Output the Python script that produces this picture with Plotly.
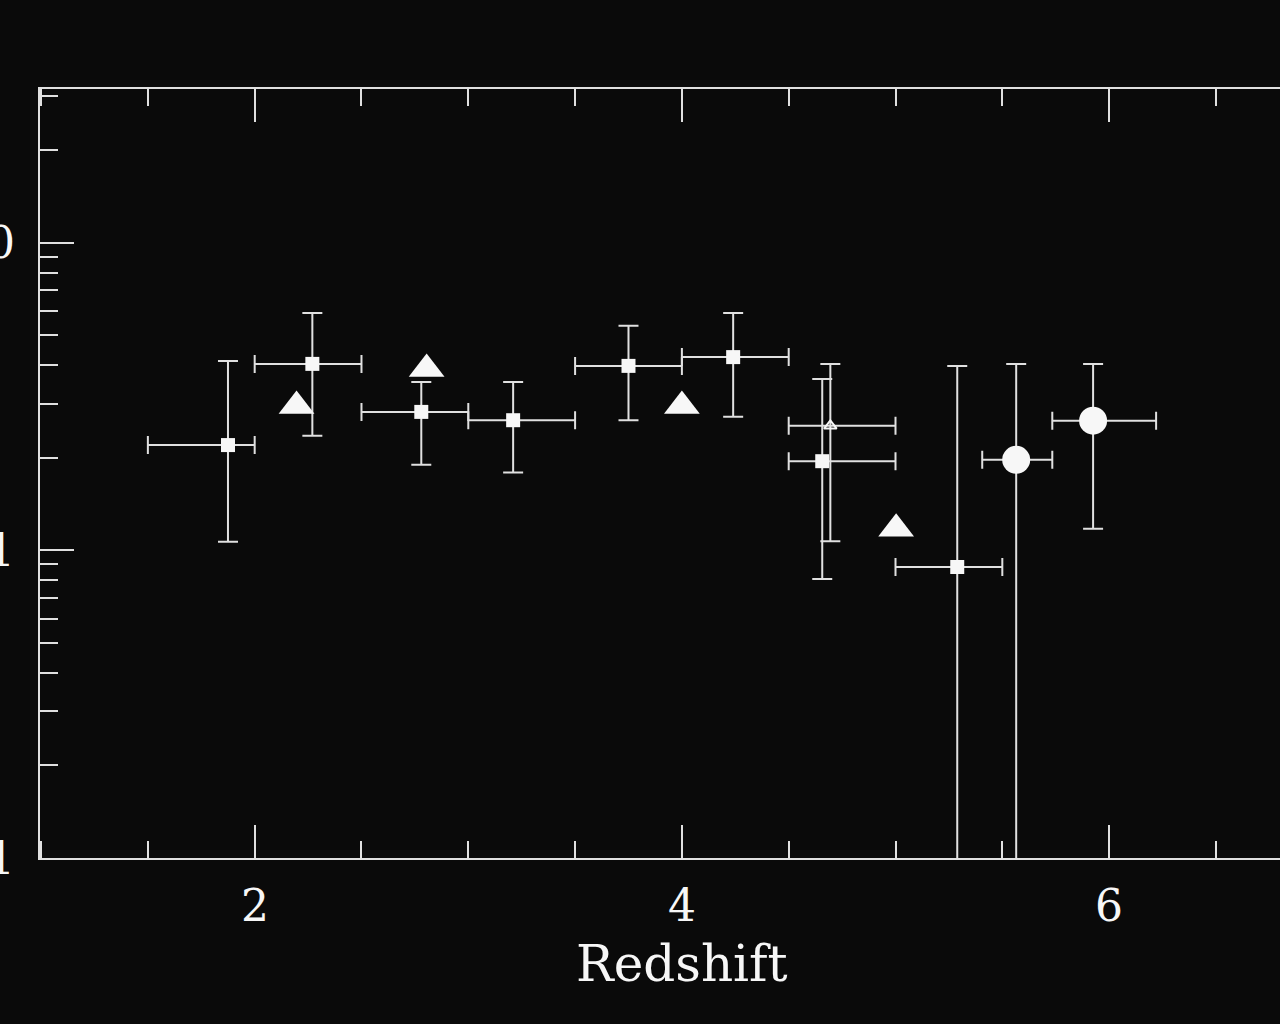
import math
import plotly.graph_objects as go

# ---------------- data ----------------
# squares with x and y error bars
sq_x = [1.875, 2.27, 2.78, 3.21, 3.75, 4.24, 4.657, 5.289]
sq_y = [2.20, 4.04, 2.82, 2.65, 3.98, 4.25, 1.95, 0.883]
sq_xlo = [1.5, 2.0, 2.5, 3.0, 3.5, 4.0, 4.5, 5.0]
sq_xhi = [2.0, 2.5, 3.0, 3.5, 4.0, 4.5, 5.0, 5.5]
sq_ylo = [1.066, 2.36, 1.90, 1.79, 2.65, 2.72, 0.807, 0.05]
sq_yhi = [4.13, 5.91, 3.53, 3.53, 5.37, 5.91, 3.61, 3.98]

# small open triangle with error bars
ot_x = [4.695]
ot_y = [2.54]
ot_xlo = [4.5]
ot_xhi = [5.0]
ot_ylo = [1.07]
ot_yhi = [4.04]

# filled circles with error bars
ci_x = [5.565, 5.925]
ci_y = [1.97, 2.64]
ci_xlo = [5.406, 5.734]
ci_xhi = [5.734, 6.220]
ci_ylo = [0.05, 1.175]
ci_yhi = [4.04, 4.04]

# filled triangles (no error bars)
tr_x = [2.196, 2.805, 4.0, 5.003]
tr_y = [2.95, 3.89, 2.95, 1.175]

# axis labels
x_tick_vals = [2, 4, 6]
x_tick_text = ["2", "4", "6"]
y_tick_vals = [0.1, 1, 10]
y_tick_text = ["0.1", "1", "10"]
x_title = "Redshift"

# ---------------- style ----------------
BG = "#0a0a0a"
FG = "#e0e0e0"
MK = "#f7f7f7"
FONT = "DejaVu Serif"


def errs(v, lo, hi):
    return [h - a for a, h in zip(v, hi)], [a - l for a, l in zip(v, lo)]


fig = go.Figure()


def add_err_trace(x, y, xlo, xhi, ylo, yhi, symbol, size, line_w=0):
    xp, xm = errs(x, xlo, xhi)
    yp, ym = errs(y, ylo, yhi)
    fig.add_trace(go.Scatter(
        x=x, y=y, mode="markers",
        marker=dict(symbol=symbol, size=size, color=MK,
                    line=dict(color=MK, width=line_w)),
        error_x=dict(type="data", symmetric=False, array=xp, arrayminus=xm,
                     color=FG, thickness=2, width=9),
        error_y=dict(type="data", symmetric=False, array=yp, arrayminus=ym,
                     color=FG, thickness=2, width=10),
        showlegend=False, hoverinfo="x+y",
    ))


add_err_trace(sq_x, sq_y, sq_xlo, sq_xhi, sq_ylo, sq_yhi, "square", 14)
add_err_trace(ot_x, ot_y, ot_xlo, ot_xhi, ot_ylo, ot_yhi, "triangle-up-open", 11, 2)
add_err_trace(ci_x, ci_y, ci_xlo, ci_xhi, ci_ylo, ci_yhi, "circle", 28)

fig.add_trace(go.Scatter(
    x=tr_x, y=tr_y, mode="markers",
    marker=dict(symbol="triangle-up", size=31, color=MK, line=dict(width=0)),
    showlegend=False, hoverinfo="x+y",
))

minor_y = [m * d for d in (0.1, 1, 10) for m in range(2, 10)]

fig.update_xaxes(
    range=[0.995, 6.8], showgrid=False, zeroline=False,
    showline=True, linecolor=FG, linewidth=2, mirror="allticks",
    ticks="inside", tickcolor=FG, tickwidth=2, ticklen=33,
    tickmode="array", tickvals=x_tick_vals, showticklabels=False,
    minor=dict(ticks="inside", tickmode="linear", tick0=1, dtick=0.5,
               ticklen=17, tickwidth=2, tickcolor=FG, showgrid=False),
)
fig.update_yaxes(
    type="log", range=[-1, 1.5], showgrid=False, zeroline=False,
    showline=True, linecolor=FG, linewidth=2, mirror=False,
    ticks="inside", tickcolor=FG, tickwidth=2, ticklen=34,
    tickmode="array", tickvals=y_tick_vals, showticklabels=False,
    minor=dict(ticks="inside", tickmode="array", tickvals=minor_y,
               ticklen=18, tickwidth=2, tickcolor=FG, showgrid=False),
)

annotations = []
for v, t in zip(x_tick_vals, x_tick_text):
    annotations.append(dict(x=v, xref="x", y=-0.0624, yref="paper", text=t,
                            showarrow=False, xanchor="center", yanchor="middle",
                            font=dict(family=FONT, size=44, color=MK)))
for v, t in zip(y_tick_vals, y_tick_text):
    annotations.append(dict(x=-0.0185, xref="paper", y=math.log10(v), yref="y",
                            text=t, showarrow=False, xanchor="right",
                            yanchor="middle",
                            font=dict(family=FONT, size=44, color=MK)))
annotations.append(dict(x=4.0, xref="x", y=-0.1378, yref="paper", text=x_title,
                        showarrow=False, xanchor="center", yanchor="middle",
                        font=dict(family=FONT, size=50, color=MK)))

fig.update_layout(
    width=1280, height=1024,
    margin=dict(l=40, r=0, t=89, b=166),
    paper_bgcolor=BG, plot_bgcolor=BG,
    annotations=annotations,
)

fig.write_html(
    "out.html",
    config={"displayModeBar": False},
    post_script="document.body.style.margin='0';document.body.style.overflow='hidden';",
)
